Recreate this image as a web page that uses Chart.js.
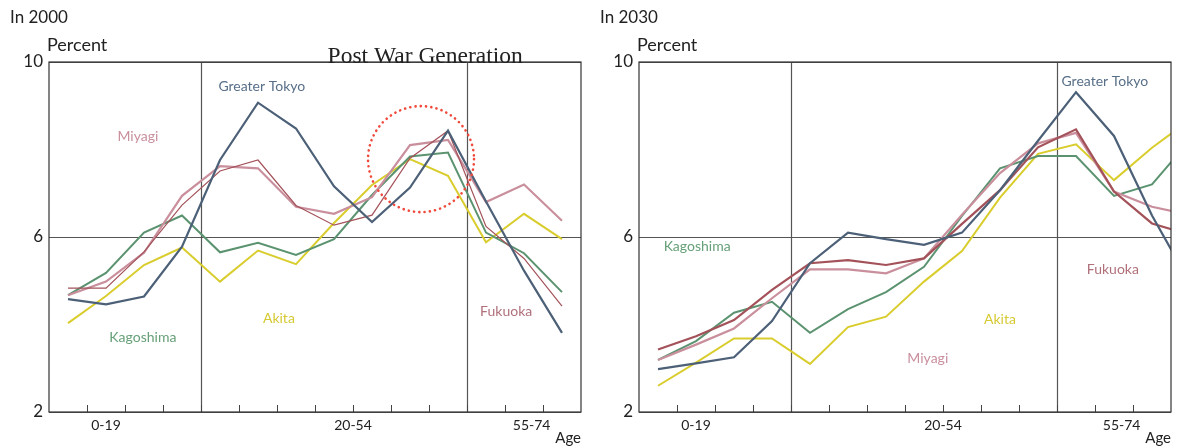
<!DOCTYPE html>
<html>
<head>
<meta charset="utf-8">
<script src="https://cdn.jsdelivr.net/npm/chart.js@4.4.1/dist/chart.umd.min.js"></script>
<style>
body { margin: 0; background: #fff; }
.wrap { display: flex; width: 1180px; height: 447px; }
canvas { display: block; }
</style>
</head>
<body>
<div class="wrap">
  <canvas id="c2000" width="590" height="447"></canvas>
  <canvas id="c2030" width="590" height="447"></canvas>
</div>
<script>
// 5-year age brackets along x (the 2030 panel runs one bracket past the frame)
var ageGroups = ['0-4', '5-9', '10-14', '15-19', '20-24', '25-29', '30-34', '35-39',
                 '40-44', '45-49', '50-54', '55-59', '60-64', '65-69', '70-74'];
var groupLabels = ['0-19', '20-54', '55-74'];
var groupSizes = [4, 7, 4];

// share of population in each bracket, percent -- 2000
var tokyo2000     = [4.58, 4.46, 4.64, 5.78, 7.76, 9.07, 8.48, 7.16, 6.34, 7.13, 8.43, 6.81, 5.23, 3.81];
var miyagi2000    = [4.67, 4.98, 5.64, 6.94, 7.62, 7.57, 6.69, 6.53, 6.91, 8.10, 8.22, 6.80, 7.20, 6.37];
var fukuoka2000   = [4.83, 4.83, 5.66, 6.73, 7.51, 7.76, 6.72, 6.27, 6.50, 7.80, 8.43, 6.24, 5.51, 4.42];
var kagoshima2000 = [4.67, 5.18, 6.10, 6.49, 5.65, 5.87, 5.59, 5.95, 6.96, 7.84, 7.93, 6.10, 5.63, 4.74];
var akita2000     = [4.03, 4.65, 5.36, 5.76, 4.98, 5.69, 5.38, 6.32, 7.19, 7.78, 7.40, 5.88, 6.53, 5.95];

// 2030
var tokyo2030     = [2.98, 3.11, 3.25, 4.08, 5.40, 6.10, 5.95, 5.82, 6.10, 7.07, 8.20, 9.31, 8.31, 6.49, 4.95];
var miyagi2030    = [3.19, 3.54, 3.91, 4.60, 5.26, 5.26, 5.17, 5.51, 6.51, 7.46, 8.14, 8.38, 7.04, 6.69, 6.50];
var fukuoka2030   = [3.43, 3.73, 4.10, 4.79, 5.40, 5.47, 5.36, 5.51, 6.30, 7.07, 8.05, 8.46, 7.04, 6.31, 6.05];
var kagoshima2030 = [3.19, 3.62, 4.27, 4.52, 3.81, 4.35, 4.74, 5.32, 6.48, 7.57, 7.85, 7.85, 6.94, 7.20, 8.22];
var akita2030     = [2.60, 3.13, 3.68, 3.68, 3.10, 3.94, 4.18, 4.98, 5.68, 6.90, 7.90, 8.12, 7.30, 8.04, 8.68];

var SANS = 'Lato, "Open Sans", sans-serif';
var colors = {
  tokyo:     {line: '#4c6077', text: '#586f88'},
  miyagi:    {line: '#c98f9c', text: '#c98f9d'},
  fukuoka:   {line: '#a4525a', text: '#b0707a'},
  kagoshima: {line: '#5b9370', text: '#67a078'},
  akita:     {line: '#d9cd2e', text: '#d6ca33'}
};

function series(name, values, width) {
  return {
    label: name,
    data: values.map(function (v, i) { return {x: i, y: v}; }),
    borderColor: colors[name].line,
    borderWidth: width || 2,
    pointRadius: 0,
    tension: 0,
    fill: false
  };
}

// frame, group dividers, inner tick marks and text notes
var decor = {
  id: 'decor',
  beforeDatasetsDraw: function (chart) {
    var ctx = chart.ctx, a = chart.chartArea, x = chart.scales.x;
    ctx.save();
    ctx.strokeStyle = '#555';
    ctx.lineWidth = 1.2;
    var edge = 0;
    for (var g = 0; g < groupSizes.length - 1; g++) {
      edge += groupSizes[g];
      var px = Math.round(x.getPixelForValue(edge - 0.5)) + 0.5;
      ctx.beginPath(); ctx.moveTo(px, a.top); ctx.lineTo(px, a.bottom); ctx.stroke();
    }
    ctx.strokeStyle = '#444';
    ctx.lineWidth = 1;
    for (var i = 0; i < 13; i++) {
      var tx = Math.round(x.getPixelForValue(i + 0.5)) + 0.5;
      ctx.beginPath(); ctx.moveTo(tx, a.bottom); ctx.lineTo(tx, a.bottom - 7); ctx.stroke();
    }
    ctx.restore();
  },
  afterDraw: function (chart, args, o) {
    var ctx = chart.ctx, a = chart.chartArea, x = chart.scales.x, y = chart.scales.y;
    ctx.save();
    ctx.strokeStyle = '#333';
    ctx.lineWidth = 1.2;
    ctx.strokeRect(a.left, a.top, a.right - a.left, a.bottom - a.top);

    ctx.fillStyle = '#222';
    ctx.textBaseline = 'middle';
    ctx.textAlign = 'left';
    ctx.font = '17px ' + SANS;
    ctx.fillText(o.year, 10, 18);
    ctx.font = '18px ' + SANS;
    ctx.fillText('Percent', 47, 45);

    if (o.banner) {
      ctx.font = '23.5px "Liberation Serif", "DejaVu Serif", serif';
      ctx.textAlign = 'center';
      ctx.textBaseline = 'alphabetic';
      ctx.fillText(o.banner.text, x.getPixelForValue(o.banner.x), a.top + 1);
    }
    if (o.ring) {
      ctx.strokeStyle = '#f0493b';
      ctx.lineWidth = 2.6;
      ctx.lineCap = 'round';
      ctx.setLineDash([0.1, 5.2]);
      ctx.beginPath();
      ctx.arc(x.getPixelForValue(o.ring.x), y.getPixelForValue(o.ring.y), o.ring.r, 0, Math.PI * 2);
      ctx.stroke();
      ctx.setLineDash([]);
    }

    ctx.font = '14px ' + SANS;
    ctx.textAlign = 'center';
    ctx.textBaseline = 'middle';
    o.notes.forEach(function (n) {
      ctx.fillStyle = colors[n.key].text;
      ctx.fillText(n.text, x.getPixelForValue(n.x), y.getPixelForValue(n.y));
    });
    ctx.restore();
  }
};

function makeChart(id, datasets, notes) {
  return new Chart(document.getElementById(id), {
    type: 'line',
    data: {datasets: datasets},
    plugins: [decor],
    options: {
      responsive: false,
      animation: false,
      layout: {padding: {top: 62, right: 9, left: 0, bottom: 0}},
      plugins: {legend: {display: false}, tooltip: {enabled: false}, decor: notes},
      scales: {
        x: {
          type: 'linear', min: -0.5, max: 13.5,
          afterBuildTicks: function (s) {
            s.ticks = [1, 7.5, 12.2].map(function (v) { return {value: v}; });
          },
          afterFit: function (s) { s.height = 35; },
          grid: {display: false, drawTicks: false},
          border: {display: false},
          ticks: {
            autoSkip: false, maxRotation: 0, padding: 5, color: '#222',
            font: {family: SANS, size: 14},
            callback: function (v, i) { return groupLabels[i]; }
          },
          title: {display: true, text: 'Age', align: 'end', color: '#222',
                  font: {family: SANS, size: 15}, padding: {top: 0, bottom: 0}}
        },
        y: {
          min: 2, max: 10,
          afterFit: function (s) { s.width = 49; },
          grid: {color: '#555', lineWidth: 1, drawTicks: false},
          border: {display: false},
          ticks: {stepSize: 4, padding: 6, color: '#222', font: {family: SANS, size: 17}}
        }
      }
    }
  });
}

makeChart('c2000', [
  series('tokyo', tokyo2000, 2.2),
  series('fukuoka', fukuoka2000, 1.2),
  series('miyagi', miyagi2000, 2.2),
  series('kagoshima', kagoshima2000, 2),
  series('akita', akita2000, 2)
], {
  year: 'In 2000',
  banner: {text: 'Post War Generation', x: 9.4},
  ring: {x: 9.29, y: 7.78, r: 53},
  notes: [
    {key: 'tokyo', text: 'Greater Tokyo', x: 5.1, y: 9.43},
    {key: 'miyagi', text: 'Miyagi', x: 1.84, y: 8.29},
    {key: 'kagoshima', text: 'Kagoshima', x: 1.97, y: 3.71},
    {key: 'akita', text: 'Akita', x: 5.55, y: 4.13},
    {key: 'fukuoka', text: 'Fukuoka', x: 11.53, y: 4.29}
  ]
});

makeChart('c2030', [
  series('tokyo', tokyo2030, 2.2),
  series('fukuoka', fukuoka2030, 2.2),
  series('miyagi', miyagi2030, 2.2),
  series('kagoshima', kagoshima2030, 2),
  series('akita', akita2030, 2)
], {
  year: 'In 2030',
  notes: [
    {key: 'tokyo', text: 'Greater Tokyo', x: 11.76, y: 9.55},
    {key: 'kagoshima', text: 'Kagoshima', x: 1.03, y: 5.79},
    {key: 'fukuoka', text: 'Fukuoka', x: 11.97, y: 5.25},
    {key: 'akita', text: 'Akita', x: 9.0, y: 4.12},
    {key: 'miyagi', text: 'Miyagi', x: 7.1, y: 3.23}
  ]
});
</script>
</body>
</html>
